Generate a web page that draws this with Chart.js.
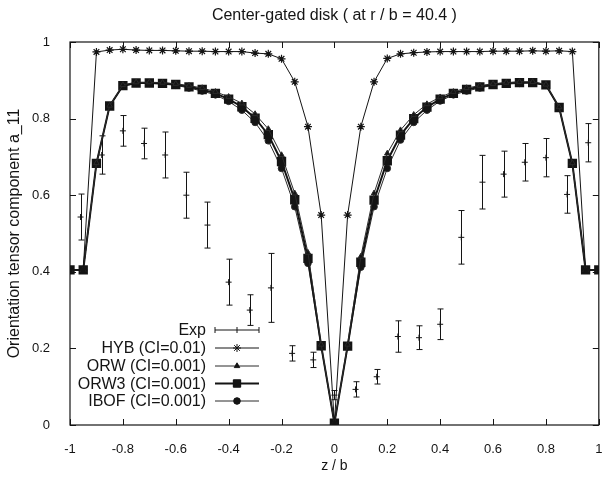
<!DOCTYPE html>
<html>
<head>
<meta charset="utf-8">
<script src="https://cdn.jsdelivr.net/npm/chart.js@4"></script>
<style>
  html, body { margin: 0; padding: 0; background: #fff; }
  #wrap { width: 606px; height: 479px; }
</style>
</head>
<body>
<div id="wrap"><canvas id="chart" width="606" height="479"></canvas></div>
<script>
// z / b positions of the model curves
const zModel = [-1, -0.95, -0.9, -0.85, -0.8, -0.75, -0.7, -0.65, -0.6, -0.55, -0.5,
    -0.45, -0.4, -0.35, -0.3, -0.25, -0.2, -0.15, -0.1, -0.05, 0,
    0.05, 0.1, 0.15, 0.2, 0.25, 0.3, 0.35, 0.4, 0.45, 0.5,
    0.55, 0.6, 0.65, 0.7, 0.75, 0.8, 0.85, 0.9, 0.95, 1];

const hyb = [0.405, 0.405, 0.974, 0.979, 0.981, 0.979, 0.978, 0.978, 0.977, 0.976, 0.976,
    0.975, 0.975, 0.975, 0.971, 0.969, 0.956, 0.896, 0.779, 0.548, 0.005,
    0.548, 0.779, 0.896, 0.957, 0.969, 0.972, 0.974, 0.975, 0.975, 0.975,
    0.975, 0.976, 0.976, 0.976, 0.977, 0.976, 0.977, 0.975, 0.405, 0.405];

const orw = [0.405, 0.405, 0.684, 0.834, 0.888, 0.895, 0.895, 0.894, 0.891, 0.886, 0.880,
    0.870, 0.857, 0.840, 0.812, 0.773, 0.705, 0.605, 0.450, 0.210, 0.005,
    0.210, 0.440, 0.605, 0.709, 0.770, 0.810, 0.838, 0.856, 0.870, 0.880,
    0.886, 0.891, 0.894, 0.896, 0.896, 0.889, 0.830, 0.684, 0.405, 0.405];

const orw3 = [0.405, 0.405, 0.683, 0.833, 0.886, 0.893, 0.893, 0.892, 0.889, 0.883, 0.876,
    0.866, 0.851, 0.831, 0.801, 0.758, 0.688, 0.588, 0.435, 0.207, 0.005,
    0.206, 0.425, 0.587, 0.690, 0.757, 0.800, 0.830, 0.851, 0.866, 0.876,
    0.883, 0.889, 0.892, 0.894, 0.894, 0.888, 0.829, 0.683, 0.405, 0.405];

const ibof = [0.405, 0.405, 0.682, 0.832, 0.885, 0.892, 0.892, 0.890, 0.887, 0.880, 0.872,
    0.862, 0.845, 0.822, 0.790, 0.742, 0.670, 0.570, 0.422, 0.204, 0.005,
    0.204, 0.412, 0.570, 0.670, 0.744, 0.790, 0.822, 0.846, 0.862, 0.872,
    0.880, 0.887, 0.890, 0.892, 0.893, 0.887, 0.828, 0.682, 0.405, 0.405];

// measured points with error bars
const zExp = [-0.96, -0.88, -0.8, -0.72, -0.64, -0.56, -0.48, -0.4, -0.32, -0.24, -0.16, -0.08, 0,
    0.08, 0.16, 0.24, 0.32, 0.4, 0.48, 0.56, 0.64, 0.72, 0.8, 0.88, 0.96];
const expVal = [0.543, 0.705, 0.768, 0.735, 0.705, 0.600, 0.522, 0.373, 0.300, 0.358, 0.187, 0.170, 0.078,
    0.093, 0.126, 0.231, 0.228, 0.263, 0.490, 0.634, 0.655, 0.686, 0.698, 0.602, 0.737];
const expErr = [0.060, 0.050, 0.040, 0.040, 0.060, 0.060, 0.060, 0.060, 0.040, 0.090, 0.020, 0.020, 0.012,
    0.020, 0.019, 0.041, 0.031, 0.040, 0.070, 0.070, 0.060, 0.049, 0.050, 0.049, 0.050];

const xTicks = [-1, -0.8, -0.6, -0.4, -0.2, 0, 0.2, 0.4, 0.6, 0.8, 1];
const xTickLabels = ['-1', '-0.8', '-0.6', '-0.4', '-0.2', '0', '0.2', '0.4', '0.6', '0.8', '1'];
const yTicks = [0, 0.2, 0.4, 0.6, 0.8, 1];
const yTickLabels = ['0', '0.2', '0.4', '0.6', '0.8', '1'];

const legendNames = ['Exp', 'HYB (CI=0.01)', 'ORW (CI=0.001)', 'ORW3 (CI=0.001)', 'IBOF (CI=0.001)'];

const INK = '#141414';
const FONT = "'Liberation Sans', Arial, sans-serif";

const pts = (xs, ys) => xs.map((x, i) => ({ x: x, y: ys[i] }));

// error bars, inward ticks, frame and the in-plot legend
const decorations = {
    id: 'decorations',
    beforeDatasetsDraw(chart) {
        const { ctx } = chart;
        const xs = chart.scales.x, ys = chart.scales.y;
        ctx.save();
        ctx.strokeStyle = INK;
        ctx.lineWidth = 1;
        zExp.forEach((z, i) => {
            const px = Math.round(xs.getPixelForValue(z)) + 0.5;
            const top = ys.getPixelForValue(expVal[i] + expErr[i]);
            const bot = ys.getPixelForValue(expVal[i] - expErr[i]);
            ctx.beginPath();
            ctx.moveTo(px, top); ctx.lineTo(px, bot);
            ctx.moveTo(px - 3, top); ctx.lineTo(px + 3, top);
            ctx.moveTo(px - 3, bot); ctx.lineTo(px + 3, bot);
            ctx.stroke();
        });
        ctx.restore();
    },
    afterDraw(chart) {
        const { ctx, chartArea: a } = chart;
        const xs = chart.scales.x, ys = chart.scales.y;
        ctx.save();
        ctx.strokeStyle = INK;
        ctx.lineWidth = 1.2;
        ctx.strokeRect(a.left, a.top, a.right - a.left, a.bottom - a.top);
        ctx.lineWidth = 1;
        ctx.beginPath();
        xTicks.forEach(v => {
            const px = Math.round(xs.getPixelForValue(v)) + 0.5;
            ctx.moveTo(px, a.bottom); ctx.lineTo(px, a.bottom - 6);
            ctx.moveTo(px, a.top); ctx.lineTo(px, a.top + 6);
        });
        yTicks.forEach(v => {
            const py = Math.round(ys.getPixelForValue(v)) + 0.5;
            ctx.moveTo(a.left, py); ctx.lineTo(a.left + 6, py);
            ctx.moveTo(a.right, py); ctx.lineTo(a.right - 6, py);
        });
        ctx.stroke();

        // legend
        const textRight = 206, x0 = 215, x1 = 259, xm = 237;
        const rowY = [330, 348, 366, 383.5, 401];
        ctx.font = '16px ' + FONT;
        ctx.fillStyle = INK;
        ctx.textAlign = 'right';
        ctx.textBaseline = 'middle';
        legendNames.forEach((name, i) => {
            const y = rowY[i];
            ctx.fillText(name, textRight, y + 1);
            if (i === 0) {
                ctx.beginPath();
                ctx.moveTo(x0, y); ctx.lineTo(x1, y);
                ctx.moveTo(x0, y - 3); ctx.lineTo(x0, y + 3);
                ctx.moveTo(x1, y - 3); ctx.lineTo(x1, y + 3);
                ctx.moveTo(xm, y - 3); ctx.lineTo(xm, y + 3);
                ctx.stroke();
                return;
            }
            const ds = chart.data.datasets[i];
            ctx.save();
            ctx.strokeStyle = ds.borderColor;
            ctx.lineWidth = ds.borderWidth;
            ctx.beginPath();
            ctx.moveTo(x0, y); ctx.lineTo(x1, y);
            ctx.stroke();
            ctx.lineWidth = 1;
            Chart.helpers.drawPoint(ctx, {
                pointStyle: ds.pointStyle,
                radius: ds.pointRadius,
                borderWidth: 1
            }, xm, y);
            ctx.fillStyle = ds.pointBackgroundColor;
            ctx.fill();
            ctx.restore();
        });
        ctx.restore();
    }
};

new Chart(document.getElementById('chart'), {
    type: 'line',
    data: {
        datasets: [
            {
                label: legendNames[0],
                data: pts(zExp, expVal),
                showLine: false,
                pointStyle: 'cross',
                pointRadius: 3,
                borderColor: INK,
                borderWidth: 1
            },
            {
                label: legendNames[1],
                data: pts(zModel, hyb),
                borderColor: INK,
                borderWidth: 1,
                pointStyle: 'star',
                pointRadius: 4,
                pointBorderWidth: 1.2,
                pointBackgroundColor: INK
            },
            {
                label: legendNames[2],
                data: pts(zModel, orw),
                borderColor: '#2a2a2a',
                borderWidth: 1,
                pointStyle: 'triangle',
                pointRadius: 3.2,
                pointBackgroundColor: INK
            },
            {
                label: legendNames[3],
                data: pts(zModel, orw3),
                borderColor: INK,
                borderWidth: 2,
                pointStyle: 'rect',
                pointRadius: 5.2,
                pointBackgroundColor: INK
            },
            {
                label: legendNames[4],
                data: pts(zModel, ibof),
                borderColor: '#2a2a2a',
                borderWidth: 1,
                pointStyle: 'circle',
                pointRadius: 3.3,
                pointBackgroundColor: INK
            }
        ]
    },
    options: {
        responsive: false,
        animation: false,
        layout: { padding: { left: 0, right: 4, top: 0, bottom: 0 } },
        plugins: {
            legend: { display: false },
            tooltip: { enabled: false },
            title: {
                display: true,
                fullSize: false,
                text: 'Center-gated disk ( at r / b = 40.4 )',
                color: INK,
                font: { family: FONT, size: 16, weight: 'normal' },
                padding: { top: 6, bottom: 16.8 }
            }
        },
        scales: {
            x: {
                type: 'linear',
                min: -1,
                max: 1,
                afterBuildTicks: s => { s.ticks = xTicks.map(v => ({ value: v })); },
                afterFit: s => { s.height = 54; s.paddingLeft = 0; s.paddingRight = 0; },
                grid: { display: false },
                border: { display: false },
                ticks: {
                    color: INK,
                    padding: 9,
                    maxRotation: 0,
                    font: { family: FONT, size: 13 },
                    callback: (v, i) => xTickLabels[i]
                },
                title: {
                    display: true,
                    text: 'z / b',
                    color: INK,
                    font: { family: FONT, size: 14 },
                    padding: { top: 0, bottom: 4 }
                }
            },
            y: {
                min: 0,
                max: 1,
                afterBuildTicks: s => { s.ticks = yTicks.map(v => ({ value: v })); },
                afterFit: s => { s.width = 70; s.paddingTop = 0; s.paddingBottom = 0; },
                grid: { display: false },
                border: { display: false },
                ticks: {
                    color: INK,
                    padding: 12,
                    font: { family: FONT, size: 13 },
                    callback: (v, i) => yTickLabels[i]
                },
                title: {
                    display: true,
                    text: 'Orientation tensor component a_11',
                    color: INK,
                    font: { family: FONT, size: 16 },
                    padding: { top: 5, bottom: 0 }
                }
            }
        }
    },
    plugins: [decorations]
});
</script>
</body>
</html>
